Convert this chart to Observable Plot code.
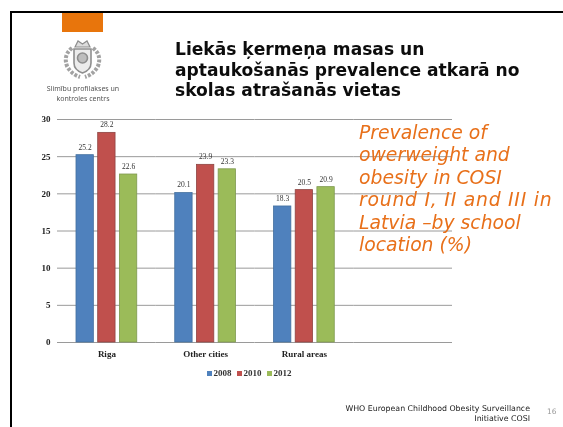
<!DOCTYPE html>
<html><head><meta charset="utf-8">
<script src="https://cdn.jsdelivr.net/npm/d3@7"></script>
<script src="https://cdn.jsdelivr.net/npm/@observablehq/plot@0.6"></script>
<style>
html,body{margin:0;padding:0;background:#fff;width:563px;height:427px;overflow:hidden}
#frame{position:absolute;left:10px;top:11px;width:560px;height:430px;border-left:2px solid #000;border-top:2px solid #000;box-sizing:border-box}
#tab{position:absolute;left:62px;top:13px;width:41px;height:18.5px;background:#e8750c}
.t{position:absolute;white-space:pre;filter:blur(.25px)}
#title{left:175px;top:39px;font:bold 17.1px/20.6px "DejaVu Sans";color:#0c0c0c}
#side{left:359px;top:122px;font:italic 18.8px/22.4px "DejaVu Sans";color:#e8701a;z-index:3}
#side span{letter-spacing:.77px}
#foot{left:300px;width:230px;top:404px;text-align:right;font:7.85px/9.5px "DejaVu Sans";color:#222}
#num{left:547px;top:407px;font:7.5px "DejaVu Sans";color:#999}
#org{left:30px;width:106px;top:84px;text-align:center;font:7px/9.5px "Noto Sans";color:#555}
#logo{position:absolute;left:62px;top:39px;filter:blur(.6px)}
#legend{position:absolute;left:207px;top:367px;font:bold 9px/12px "Liberation Serif";color:#333;display:flex;gap:5.5px;filter:blur(.25px)}
#legend i{display:inline-block;width:5px;height:5px;margin-right:1.5px}
#chart{position:absolute;left:0;top:0;filter:blur(.3px)}
</style></head><body>
<div id="chart"></div>
<div id="frame"></div><div id="tab"></div>
<svg id="logo" width="41" height="41" viewBox="0 0 41 41" fill="none" stroke="#8e8e8e">
<path d="M13 8 L16 2 L20.5 5 L25 2 L28 8 Z" stroke-width="1.2" fill="#ddd"/>
<path d="M12 10 H29 V24 Q29 31 20.5 34 Q12 31 12 24 Z" stroke-width="1.6" fill="#ececec"/>
<circle cx="20.5" cy="19" r="5" stroke-width="1.6" fill="#bdbdbd"/>
<path d="M10 9 Q1 16 5 27 Q9 35 18 38" stroke-width="4" stroke-dasharray="3 1.5" stroke="#a2a2a2"/>
<path d="M31 9 Q40 16 36 27 Q32 35 23 38" stroke-width="4" stroke-dasharray="3 1.5" stroke="#a2a2a2"/>
</svg>
<div class="t" id="org">Slimību profilakses un
kontroles centrs</div>
<div class="t" id="title">Liekās ķermeņa masas un
aptaukošanās prevalence atkarā no
skolas atrašanās vietas</div>
<div class="t" id="side">Prevalence of
owerweight and
obesity in COSI
<span>round I, II and III in</span>
Latvia –by school
location (%)</div>
<div class="t" id="foot">WHO European Childhood Obesity Surveillance
Initiative COSI</div>
<div class="t" id="num">16</div>
<div id="legend"></div>
<script>
const locations = ["Riga", "Other cities", "Rural areas", " "];
const years = ["2008", "2010", "2012"];
const colors = ["#4f81bd", "#c0504d", "#9bbb59"];
const strokes = ["#44709f", "#8f4543", "#7f9950"];
const values2008 = [25.2, 20.1, 18.3];
const values2010 = [28.2, 23.9, 20.5];
const values2012 = [22.6, 23.3, 20.9];
const yTicks = [0, 5, 10, 15, 20, 25, 30];

const series = [values2008, values2010, values2012];
const rows = years.flatMap((year, s) =>
  series[s].map((value, i) => ({location: locations[i], year, value})));
const gridRows = locations.flatMap(location => yTicks.map(tick => ({location, tick})));

const serif = "Liberation Serif";
const plot = Plot.plot({
  width: 563, height: 427,
  marginLeft: 57, marginRight: 111, marginTop: 119, marginBottom: 85,
  style: {background: "transparent"},
  fx: {domain: locations, padding: 0, round: false},
  x: {domain: years, paddingInner: 0.2, paddingOuter: 0.875, round: false, axis: null},
  y: {domain: [0, 30], axis: null},
  color: {domain: years, range: colors},
  marks: [
    Plot.ruleY(gridRows, {y: "tick", fx: "location", stroke: "#9a9a9a", strokeWidth: 1}),
    Plot.barY(rows, {x: "year", y: "value", fx: "location", fill: "year",
      stroke: d => strokes[years.indexOf(d.year)], strokeWidth: 0.8}),
    Plot.text(rows, {x: "year", y: "value", fx: "location", text: d => d.value.toFixed(1),
      dy: -8, fontFamily: serif, fontSize: 7.5, fill: "#333"}),
    Plot.axisY({ticks: yTicks, tickSize: 0, tickPadding: 7, anchor: "left", label: null,
      fontFamily: serif, fontSize: 9, fontWeight: "bold", color: "#222"}),
    Plot.axisFx({anchor: "bottom", tickSize: 0, tickPadding: 8, label: null,
      fontFamily: serif, fontSize: 9, fontWeight: "bold", color: "#222"})
  ]
});
document.getElementById("chart").append(plot);

const legend = document.getElementById("legend");
years.forEach((y, i) => {
  const s = document.createElement("span");
  const sw = document.createElement("i");
  sw.style.background = colors[i];
  s.append(sw, y);
  legend.append(s);
});
</script>
</body></html>
